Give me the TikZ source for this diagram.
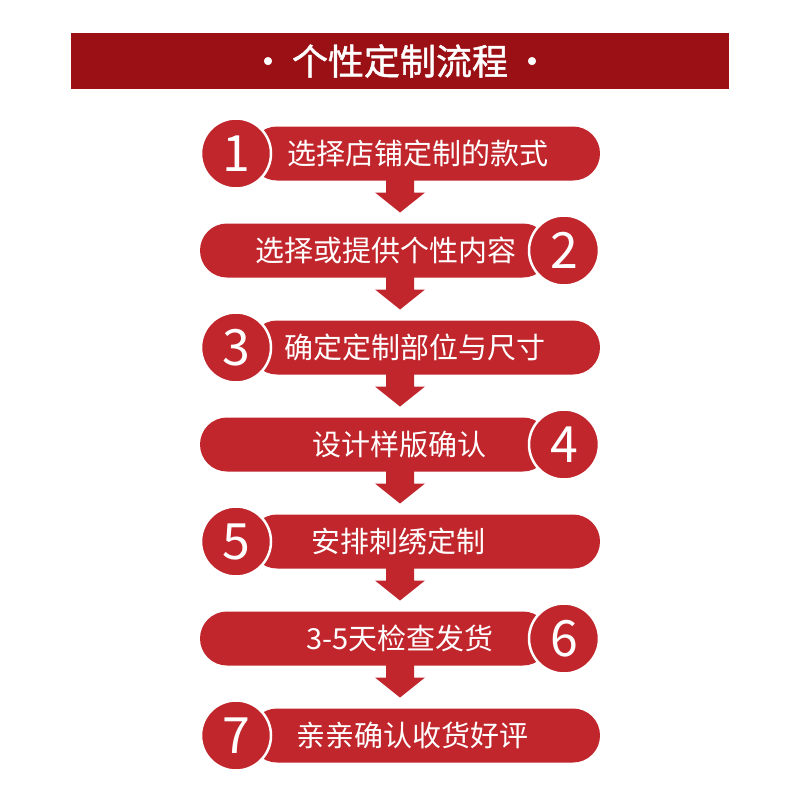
\documentclass[tikz,border=0pt]{standalone}
\usepackage{fontspec}
\newfontfamily\cjk{Noto Sans CJK SC}
\newfontfamily\cjkb[FakeBold=1.2]{Noto Sans CJK SC}
\definecolor{titlered}{HTML}{9A1014}
\definecolor{stepred}{HTML}{C1262C}
\tikzset{
  pill/.style={fill=stepred, rounded corners=27pt},
  numcirc/.style={circle, fill=stepred, draw=white, line width=2.5pt, minimum size=70pt, inner sep=0pt, text=white, font=\cjk\fontsize{50}{50}\selectfont},
  steptext/.style={text=white, inner sep=0pt, font=\cjk\fontsize{29}{29}\selectfont},
  downarrow/.style={fill=stepred}
}
\begin{document}
\begin{tikzpicture}[x=1pt,y=-1pt]
\useasboundingbox (0,0) rectangle (800,800);
\fill[white] (0,0) rectangle (800,800);
% title
\fill[titlered] (71,33) rectangle (729,89);
\node[text=white, font=\cjkb\fontsize{36}{36}\selectfont] (title) at (400,61) {·\hspace{6pt}个性定制流程\hspace{6pt}·};
% arrows
\foreach \i in {1,...,6}{
  \pgfmathsetmacro{\cy}{153.5+97*(\i-1)}
  \fill[downarrow] (386,\cy+20) -- (414,\cy+20) -- (414,\cy+39) -- (425,\cy+39) -- (400,\cy+59) -- (375,\cy+39) -- (386,\cy+39) -- cycle;
}
% odd steps
\foreach \i/\t/\tx in {1/选择店铺定制的款式/418, 3/确定定制部位与尺寸/415, 5/安排刺绣定制/398, 7/亲亲确认收货好评/412}{
  \pgfmathsetmacro{\cy}{153.5+97*(\i-1)}
  \fill[pill] (250,\cy-27) rectangle (600,\cy+27);
  \node[steptext] (t\i) at (\tx,\cy) {\t};
  \node[numcirc] (n\i) at (236,\cy) {\i};
}
% even steps
\foreach \i/\t/\tx in {2/选择或提供个性内容/386, 4/设计样版确认/399, 6/3-5天检查发货/400}{
  \pgfmathsetmacro{\cy}{153.5+97*(\i-1)}
  \fill[pill] (200,\cy-27) rectangle (550,\cy+27);
  \node[steptext] (t\i) at (\tx,\cy) {\t};
  \node[numcirc] (n\i) at (564,\cy) {\i};
}
\end{tikzpicture}
\end{document}
